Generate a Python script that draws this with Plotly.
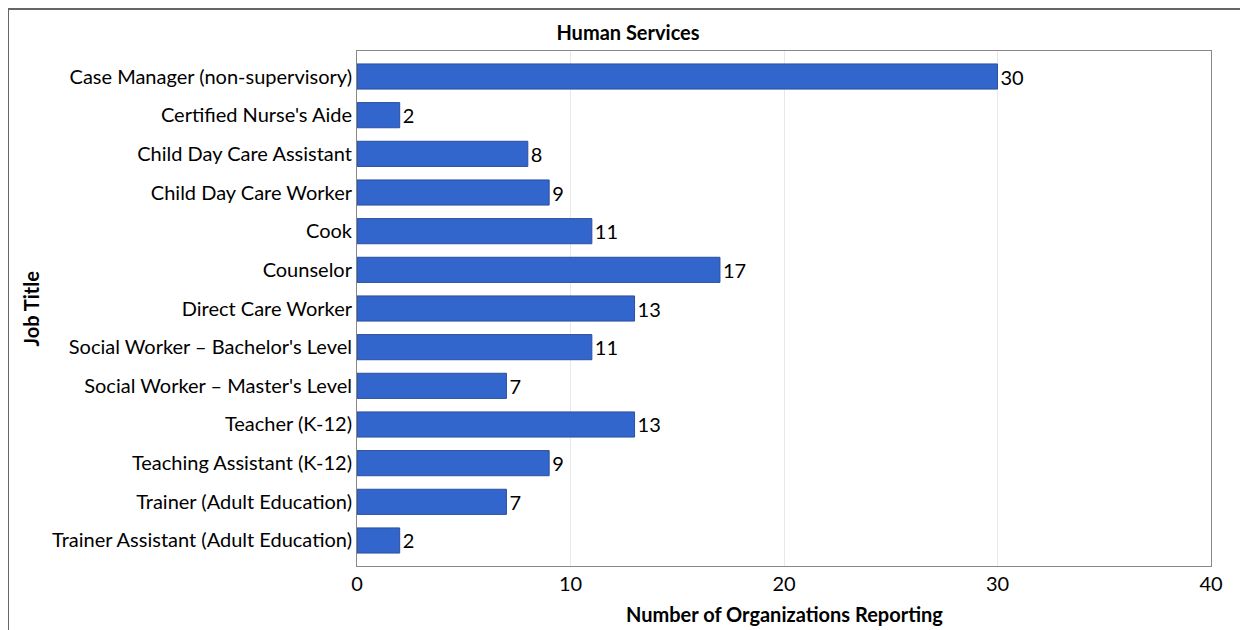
import plotly.graph_objects as go

categories = [
    "Case Manager (non-supervisory)",
    "Certified Nurse's Aide",
    "Child Day Care Assistant",
    "Child Day Care Worker",
    "Cook",
    "Counselor",
    "Direct Care Worker",
    "Social Worker – Bachelor's Level",
    "Social Worker – Master's Level",
    "Teacher (K-12)",
    "Teaching Assistant (K-12)",
    "Trainer (Adult Education)",
    "Trainer Assistant (Adult Education)",
]
values = [30, 2, 8, 9, 11, 17, 13, 11, 7, 13, 9, 7, 2]
x_ticks = [0, 10, 20, 30, 40]

FONT = "Lato, Calibri, sans-serif"

# page has an 8px body margin, so figure is 1240x622 placed at (8,8)
W, H = 1240, 622
L, R, T, B = 349, 37, 43, 64
PW, PH = W - L - R, H - T - B

fig = go.Figure(go.Bar(
    y=categories, x=values, orientation="h",
    marker=dict(color="#3366CC", line=dict(color="#2A4F9E", width=1)),
    width=0.65,
    text=[str(v) for v in values], textposition="outside",
    textfont=dict(size=20, color="#000000", family=FONT),
    cliponaxis=False,
))

fig.update_layout(
    width=W, height=H,
    margin=dict(l=L, r=R, t=T, b=B),
    paper_bgcolor="white", plot_bgcolor="white",
    font=dict(family=FONT, size=20, color="#000000"),
    title=dict(text="<b>Human Services</b>", x=0.5, xanchor="center",
               y=1 - 25/H, yanchor="middle", font=dict(size=20, family=FONT)),
    showlegend=False,
    xaxis=dict(
        range=[0, 40], tickvals=x_ticks, ticktext=[str(t) for t in x_ticks],
        showgrid=True, gridcolor="#E8E8E8", gridwidth=1,
        zeroline=False, showline=True, linecolor="#888888", linewidth=1, mirror=True,
        ticks="", tickfont=dict(size=20),
    ),
    yaxis=dict(
        categoryorder="array", categoryarray=categories,
        autorange=False, range=[12.66, -0.66],
        showgrid=False, zeroline=False, showline=True, linecolor="#888888", linewidth=1, mirror=True,
        ticks="", tickfont=dict(size=20),
    ),
    annotations=[
        dict(text="<b>Number of Organizations Reporting</b>", xref="paper", yref="paper",
             x=0.5, y=(H - B - 606) / PH, xanchor="center", yanchor="middle",
             showarrow=False, font=dict(size=20, family=FONT)),
        dict(text="<b>Job Title</b>", xref="paper", yref="paper",
             x=(22 - L) / PW, y=0.5, xanchor="center", yanchor="middle", textangle=-90,
             showarrow=False, font=dict(size=20, family=FONT)),
    ],
    shapes=[dict(type="rect", xref="paper", yref="paper",
                 x0=(0 - L) / PW, x1=(W + 10 - L) / PW, y0=(H - B - H - 10) / PH, y1=(H - B - 1) / PH,
                 line=dict(color="#666666", width=2), fillcolor="rgba(0,0,0,0)", layer="below")],
)

fig.write_html("out.html")
